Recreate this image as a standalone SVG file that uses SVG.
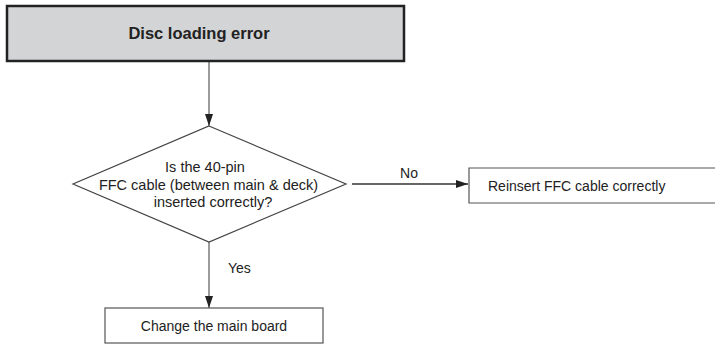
<svg xmlns="http://www.w3.org/2000/svg" width="715" height="345" viewBox="0 0 715 345">
<style>
  text { font-family: "Liberation Sans", Arial, sans-serif; fill: #222; }
  .lbl { font-size: 14px; }
  .title { font-size: 16.5px; font-weight: bold; }
  .box { fill: #fff; stroke: #555; stroke-width: 1.2; }
  .conn { stroke: #666; stroke-width: 1.3; fill: none; }
</style>
<defs>
  <marker id="arr" markerWidth="12" markerHeight="8" refX="12" refY="4" orient="auto" markerUnits="userSpaceOnUse">
    <path d="M0,0 L12,4 L0,8 Z" fill="#222"/>
  </marker>
</defs>
<rect width="715" height="345" fill="#fff"/>
<g id="connectors">
  <line class="conn" x1="209" y1="62" x2="209" y2="126" marker-end="url(#arr)"/>
  <line class="conn" x1="352" y1="184" x2="468" y2="184" marker-end="url(#arr)" style="stroke:#333"/>
  <text class="lbl" x="409" y="178" text-anchor="middle">No</text>
  <line class="conn" x1="209" y1="242" x2="209" y2="308" marker-end="url(#arr)"/>
  <text class="lbl" x="228" y="273">Yes</text>
</g>
<g id="start">
  <rect x="7" y="6" width="397" height="55" fill="#d3d4d6" stroke="#222" stroke-width="2.5"/>
  <text class="title" x="199" y="39" text-anchor="middle">Disc loading error</text>
</g>
<g id="decision">
  <polygon points="209,126 346,184 209,242 73,184" fill="#fff" stroke="#444" stroke-width="1.2"/>
  <text class="lbl" x="205" y="172" text-anchor="middle" style="font-size:14.5px">Is the 40-pin</text>
  <text class="lbl" x="208.5" y="190" text-anchor="middle" style="font-size:14.5px">FFC cable (between main &amp; deck)</text>
  <text class="lbl" x="213" y="207" text-anchor="middle" style="font-size:14.5px">inserted correctly?</text>
</g>
<g id="reinsert">
  <path class="box" d="M716,168 H469 V203 H716"/>
  <text class="lbl" x="488" y="191">Reinsert FFC cable correctly</text>
</g>
<g id="change">
  <rect class="box" x="105" y="308" width="218" height="35"/>
  <text class="lbl" x="214" y="331" text-anchor="middle">Change the main board</text>
</g>
</svg>
